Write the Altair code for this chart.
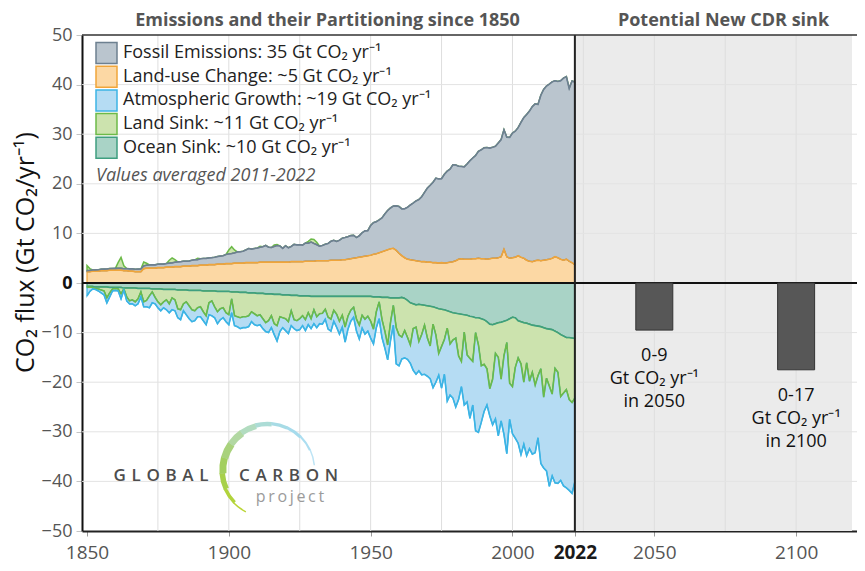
import altair as alt
import pandas as pd

FONT = "Open Sans"

# ---------------- data (Gt CO2 per year) ----------------
years = list(range(1850, 2023))

fossil = [
    0.20, 0.21, 0.23, 0.24, 0.27, 0.28, 0.29, 0.31, 0.31, 0.33,
    0.34, 0.36, 0.36, 0.38, 0.41, 0.44, 0.44, 0.47, 0.49, 0.52,
    0.54, 0.58, 0.63, 0.68, 0.66, 0.69, 0.70, 0.71, 0.72, 0.79,
    0.86, 0.89, 0.95, 1.00, 1.00, 1.00, 1.02, 1.09, 1.18, 1.20,
    1.29, 1.35, 1.36, 1.35, 1.41, 1.49, 1.53, 1.61, 1.70, 1.85,
    1.95, 2.03, 2.06, 2.27, 2.29, 2.40, 2.57, 2.86, 2.74, 2.84,
    2.94, 2.99, 3.11, 3.37, 3.02, 2.95, 3.17, 3.36, 3.26, 2.79,
    3.32, 2.90, 3.06, 3.49, 3.38, 3.41, 3.35, 3.64, 3.61, 3.85,
    3.56, 3.22, 2.91, 3.05, 3.32, 3.47, 3.80, 4.00, 3.77, 4.00,
    4.33, 4.47, 4.54, 4.66, 4.60, 4.05, 4.32, 4.83, 5.11, 5.06,
    5.98, 6.37, 6.46, 6.62, 6.82, 7.42, 7.92, 8.23, 8.50, 8.95,
    9.42, 9.44, 9.86, 10.46, 11.03, 11.51, 12.04, 12.42, 13.09, 13.97,
    14.93, 15.50, 16.21, 17.02, 16.98, 16.94, 17.91, 18.45, 18.75, 19.53,
    19.29, 18.73, 18.60, 18.62, 19.19, 19.84, 20.30, 20.81, 21.54, 21.95,
    22.35, 22.52, 22.30, 22.37, 22.56, 23.14, 23.61, 24.09, 24.10, 24.37,
    25.12, 25.41, 25.82, 27.19, 28.35, 29.37, 30.26, 31.26, 31.61, 31.40,
    33.36, 34.44, 35.01, 35.31, 35.55, 35.48, 35.53, 35.99, 36.72, 36.80,
    34.81, 36.63, 36.81]

land_use = [
    2.3, 2.3, 2.4, 2.4, 2.4, 2.5, 2.5, 2.5, 2.6, 2.6,
    2.6, 2.6, 2.6, 2.5, 2.5, 2.4, 2.4, 2.3, 2.3, 2.3,
    2.9, 3.0, 3.0, 3.0, 3.0, 3.1, 3.1, 3.1, 3.2, 3.2,
    3.2, 3.3, 3.3, 3.3, 3.4, 3.4, 3.4, 3.5, 3.5, 3.5,
    3.6, 3.6, 3.6, 3.7, 3.7, 3.7, 3.8, 3.8, 3.8, 3.9,
    3.9, 3.9, 4.0, 4.0, 4.0, 4.0, 4.1, 4.1, 4.1, 4.1,
    4.1, 4.2, 4.2, 4.2, 4.2, 4.2, 4.2, 4.2, 4.2, 4.2,
    4.2, 4.2, 4.3, 4.3, 4.3, 4.3, 4.3, 4.4, 4.4, 4.4,
    4.4, 4.5, 4.5, 4.5, 4.5, 4.5, 4.6, 4.6, 4.6, 4.6,
    4.7, 4.7, 4.8, 4.9, 5.0, 5.1, 5.2, 5.3, 5.4, 5.5,
    5.6, 5.8, 5.9, 6.1, 6.3, 6.5, 6.7, 6.9, 7.0, 6.6,
    6.0, 5.5, 5.1, 4.8, 4.7, 4.6, 4.5, 4.4, 4.3, 4.3,
    4.2, 4.2, 4.1, 4.1, 4.0, 4.1, 4.0, 4.1, 4.2, 4.3,
    4.5, 4.8, 4.9, 4.8, 4.8, 4.8, 4.9, 4.9, 5.0, 4.9,
    4.9, 4.8, 4.9, 5.0, 5.0, 5.1, 5.3, 6.8, 5.3, 5.0,
    5.1, 5.2, 5.5, 5.2, 5.0, 4.6, 4.4, 4.3, 4.5, 4.6,
    4.5, 4.6, 4.7, 4.8, 5.0, 5.3, 5.1, 4.8, 4.6, 4.8,
    4.4, 4.1, 3.7]

ocean_sink = [
    0.7, 0.7, 0.7, 0.8, 0.8, 0.8, 0.8, 0.8, 0.9, 0.9,
    0.9, 0.9, 0.9, 1.0, 1.0, 1.0, 1.0, 1.0, 1.1, 1.1,
    1.1, 1.1, 1.1, 1.2, 1.2, 1.2, 1.2, 1.3, 1.3, 1.3,
    1.3, 1.3, 1.4, 1.4, 1.4, 1.4, 1.5, 1.5, 1.5, 1.5,
    1.5, 1.6, 1.6, 1.6, 1.6, 1.6, 1.7, 1.7, 1.7, 1.7,
    1.7, 1.8, 1.8, 1.8, 1.9, 1.9, 1.9, 2.0, 2.0, 2.0,
    2.1, 2.1, 2.1, 2.2, 2.2, 2.2, 2.3, 2.3, 2.3, 2.4,
    2.4, 2.4, 2.5, 2.5, 2.5, 2.6, 2.6, 2.6, 2.6, 2.7,
    2.7, 2.7, 2.7, 2.7, 2.7, 2.7, 2.7, 2.7, 2.7, 2.7,
    2.7, 2.7, 2.7, 2.7, 2.7, 2.7, 2.7, 2.7, 2.7, 2.7,
    2.7, 2.8, 2.8, 2.8, 2.9, 2.9, 2.9, 3.0, 3.0, 3.0,
    3.0, 2.9, 3.1, 3.5, 4.0, 4.2, 4.4, 4.3, 4.4, 4.5,
    4.6, 4.7, 4.8, 5.0, 5.2, 5.3, 5.4, 5.6, 5.8, 6.0,
    6.1, 6.2, 6.3, 6.4, 6.5, 6.7, 6.8, 7.0, 7.0, 7.2,
    7.4, 7.8, 8.3, 8.4, 8.2, 8.0, 7.9, 7.7, 7.5, 7.2,
    6.9, 7.0, 7.6, 7.8, 8.0, 8.1, 8.3, 8.5, 8.6, 8.7,
    8.8, 9.0, 9.2, 9.3, 9.4, 9.7, 10.0, 10.4, 10.7, 11.0,
    11.0, 11.1, 11.2]

land_sink = [
    0.2, 0.1, 0.2, 0.3, 0.4, 0.6, 0.8, 2.2, 1.1, 0.3,
    0.2, 0.3, 1.3, 0.2, 1.8, 2.6, 2.4, 2.8, 2.1, 0.7,
    2.7, 2.4, 1.5, 0.6, 1.7, 2.6, 3.2, 2.5, 2.1, 2.9,
    1.7, 2.1, 3.8, 4.0, 2.8, 2.4, 3.1, 3.9, 4.1, 3.5,
    3.3, 4.2, 5.0, 2.4, 2.0, 3.2, 4.1, 3.5, 3.3, 4.3,
    4.7, 1.4, 4.8, 5.0, 5.1, 4.9, 4.9, 4.6, 3.8, 4.2,
    4.5, 4.3, 5.1, 5.8, 5.4, 4.4, 5.9, 6.3, 4.5, 4.6,
    4.8, 5.4, 3.1, 4.9, 5.1, 4.6, 4.0, 4.8, 3.4, 4.5,
    2.7, 4.1, 3.5, 3.4, 2.6, 4.2, 4.6, 2.8, 3.6, 5.0,
    3.8, 6.2, 4.0, 2.8, 2.2, 4.6, 5.8, 3.8, 4.6, 4.0,
    5.0, 6.5, 3.0, 1.0, 4.5, 6.8, 9.6, 5.0, 1.5, 6.0,
    7.5, 8.0, 6.5, 7.5, 8.5, 5.0, 4.5, 7.5, 6.0, 4.0,
    6.5, 8.0, 3.5, 5.5, 9.0, 7.5, 6.0, 3.5, 6.5, 5.5,
    5.0, 8.5, 9.5, 3.5, 8.0, 8.5, 9.0, 3.0, 5.5, 9.5,
    9.0, 9.5, 13.0, 11.0, 6.0, 7.0, 11.5, 7.0, 4.5, 13.0,
    14.0, 10.0, 7.5, 8.5, 12.0, 8.0, 11.5, 9.5, 12.0, 10.0,
    8.5, 14.0, 10.0, 11.5, 13.0, 7.5, 8.0, 12.5, 11.5, 10.5,
    12.5, 13.0, 12.0]

atm_growth = [
    1.7, 0.9, 0.3, 0.2, 0.4, 0.6, 0.8, 1.0, 0.8, 0.4,
    0.4, 0.4, 1.0, 0.2, 0.8, 0.6, 0.8, 0.8, 1.0, 1.0,
    1.0, 1.3, 2.4, 2.2, 1.3, 1.2, 1.2, 1.2, 2.0, 1.8,
    2.4, 2.2, 1.8, 2.0, 1.4, 2.6, 2.6, 2.4, 2.0, 1.8,
    2.0, 1.8, 1.8, 2.4, 3.0, 2.2, 2.4, 2.2, 2.0, 1.8,
    2.0, 2.8, 2.0, 2.0, 2.2, 2.2, 2.2, 2.2, 2.0, 2.2,
    2.0, 2.0, 2.0, 1.8, 2.4, 2.4, 2.2, 3.1, 3.0, 2.0,
    2.4, 2.4, 3.0, 1.8, 2.0, 2.2, 2.0, 2.2, 2.4, 2.0,
    2.8, 2.2, 2.0, 2.2, 2.0, 2.4, 2.4, 2.2, 2.6, 2.6,
    2.4, 3.0, 2.6, 2.2, 2.0, 2.4, 2.8, 2.6, 3.0, 3.0,
    3.4, 3.0, 3.2, 3.4, 3.6, 3.4, 3.0, 3.6, 4.0, 7.3,
    6.2, 4.4, 5.5, 4.4, 3.7, 8.4, 9.5, 5.9, 8.1, 9.9,
    7.7, 6.6, 12.8, 9.5, 4.4, 8.4, 7.0, 14.7, 10.3, 11.7,
    13.9, 8.8, 5.1, 14.7, 9.5, 12.1, 8.8, 19.8, 17.6, 11.4,
    9.5, 7.3, 5.5, 9.2, 13.2, 15.8, 8.4, 15.8, 22.4, 7.3,
    9.5, 14.3, 17.2, 18.3, 12.5, 18.7, 13.6, 16.5, 13.6, 12.5,
    19.1, 14.3, 18.7, 20.2, 16.5, 23.1, 22.4, 16.9, 18.7, 19.8,
    18.3, 18.3, 16.9]

# years in which the sinks exceed the emissions (drawn above the emissions)
imbalance_years = [1850, 1851, 1861, 1862, 1863, 1870, 1871, 1879, 1880, 1881,
                   1889, 1900, 1901, 1902, 1911, 1916, 1917, 1928, 1929, 1930, 1931]
imbalance_values = [1.0, 0.4, 1.2, 2.2, 0.6, 0.8, 0.4, 0.6, 1.0, 0.5,
                    0.3, 0.8, 1.4, 0.6, 0.2, 0.3, 0.2, 0.4, 0.6, 0.8, 0.5]

cdr_years = [2050, 2100]
cdr_values = [-9.5, -17.5]
cdr_labels = ["0-9\nGt CO₂ yr⁻¹\nin 2050", "0-17\nGt CO₂ yr⁻¹\nin 2100"]

series_names = [
    "Fossil Emissions: 35 Gt CO₂ yr⁻¹",
    "Land-use Change: ~5 Gt CO₂ yr⁻¹",
    "Atmospheric Growth: ~19 Gt CO₂ yr⁻¹",
    "Land Sink: ~11 Gt CO₂ yr⁻¹",
    "Ocean Sink: ~10 Gt CO₂ yr⁻¹",
]
fill_colors = ["#bac5ce", "#fcd8a4", "#b5dcf3", "#cce3ae", "#a9d3c6"]
line_colors = ["#6d8090", "#f0a53a", "#3cb4e5", "#6cba48", "#3f9f80"]

x_ticks = [1850, 1900, 1950, 2000, 2022, 2050, 2100]
grid_years = [1875, 1900, 1925, 1950, 1975, 2000, 2025, 2050, 2075, 2100]
y_ticks = [-50, -40, -30, -20, -10, 0, 10, 20, 30, 40, 50]
grid_values = [-40, -30, -20, -10, 10, 20, 30, 40]

CDR_START = 2022
X_END = 2119.7

# ---------------- tables ----------------
rows = []
stack_spec = [
    (series_names[1], land_use, 1, 1),
    (series_names[0], fossil, 1, 2),
    (series_names[4], ocean_sink, -1, 1),
    (series_names[3], land_sink, -1, 2),
    (series_names[2], atm_growth, -1, 3),
]
for name, vals, sign, order in stack_spec:
    for yr, v in zip(years, vals):
        rows.append({"year": yr, "series": name, "value": sign * v, "order": order})
long_df = pd.DataFrame(rows)

imb_lookup = dict(zip(imbalance_years, imbalance_values))
imb_df = pd.DataFrame({
    "year": years,
    "base": [f + l for f, l in zip(fossil, land_use)],
    "top": [f + l + imb_lookup.get(yr, 0.0) for yr, f, l in zip(years, fossil, land_use)],
})

cdr_df = pd.DataFrame({"year": cdr_years, "value": cdr_values, "label": cdr_labels})
one = pd.DataFrame({"k": [0]})

# ---------------- scales / axes ----------------
x_scale = alt.Scale(domain=[1850, X_END], nice=False, zero=False)
y_scale = alt.Scale(domain=[-50, 50], nice=False, zero=False)

x_axis = alt.Axis(
    values=x_ticks, format="d", title=None, grid=False, labelFlush=False, labelOverlap=False,
    labelFont=FONT, labelFontSize=19,
    labelColor=alt.ExprRef(expr="datum.value == 2022 ? '#1a1a1a' : '#555555'"),
    labelFontWeight=alt.ExprRef(expr="datum.value == 2022 ? 'bold' : 'normal'"),
    labelPadding=7, tickSize=5, tickColor="#9a9a9a", domainColor="#222222", domainWidth=2,
)
y_axis = alt.Axis(
    values=y_ticks, title="CO₂ flux (Gt CO₂/yr⁻¹)", grid=False, labelFlush=False, labelOverlap=False,
    labelFont=FONT, labelFontSize=18,
    labelColor=alt.ExprRef(expr="datum.value == 0 ? '#111111' : '#555555'"),
    labelFontWeight=alt.ExprRef(expr="datum.value == 0 ? 'bold' : 'normal'"),
    labelPadding=4, tickSize=6, tickColor="#c4c4c4", domainColor="#111111", domainWidth=2,
    titleFont=FONT, titleFontSize=25, titleFontWeight="normal", titleColor="#111111",
    titleAngle=270, titleAlign="center", titleBaseline="middle", titleX=-57, titleY=217,
)


def X(field):
    return alt.X(field, scale=x_scale, axis=x_axis)


def Y(field):
    return alt.Y(field, scale=y_scale, axis=y_axis)


def XD(v):
    return alt.XDatum(v, scale=x_scale, axis=x_axis)


def YD(v):
    return alt.YDatum(v, scale=y_scale, axis=y_axis)


fill_scale = alt.Scale(domain=series_names, range=fill_colors)
stroke_scale = alt.Scale(domain=series_names, range=line_colors)

# ---------------- layers ----------------
cdr_bg = alt.Chart(one).mark_rect(color="#ebebeb").encode(
    x=XD(CDR_START), x2=alt.X2Datum(X_END), y=YD(50), y2=alt.Y2Datum(-50))

grid_x = alt.Chart(pd.DataFrame({"year": grid_years})).mark_rule(
    color="#dedede", strokeWidth=1).encode(x=X("year:Q"))
grid_y = alt.Chart(pd.DataFrame({"v": grid_values})).mark_rule(
    color="#e3e3e3", strokeWidth=1).encode(y=Y("v:Q"))

imb_area = alt.Chart(imb_df).mark_area(
    color="#cce3ae", opacity=1, stroke="#6cba48", strokeWidth=1.5).encode(
    x=X("year:Q"), y=Y("top:Q"), y2="base:Q")

stacked = alt.Chart(long_df).transform_stack(
    stack="value", groupby=["year"], as_=["v0", "v1"],
    sort=[alt.SortField("order", order="ascending")], offset="zero")

areas = stacked.mark_area(opacity=1, strokeWidth=1.2).encode(
    x=X("year:Q"), y=Y("v1:Q"), y2="v0:Q",
    fill=alt.Fill("series:N", scale=fill_scale, legend=None),
    stroke=alt.Stroke("series:N", scale=stroke_scale, legend=None),
    order=alt.Order("order:Q"))

lines = stacked.mark_line(strokeWidth=1.6).encode(
    x=X("year:Q"), y=Y("v1:Q"),
    stroke=alt.Stroke("series:N", scale=stroke_scale, legend=None))

zero_rule = alt.Chart(one).mark_rule(color="#111111", strokeWidth=2).encode(y=YD(0))
divider = alt.Chart(one).mark_rule(color="#222222", strokeWidth=2).encode(x=XD(CDR_START))
top_rule = alt.Chart(one).mark_rule(color="#333333", strokeWidth=1.5).encode(y=YD(50))

bars = alt.Chart(cdr_df).mark_bar(size=37, color="#575757", stroke="#333333", strokeWidth=1).encode(
    x=X("year:Q"), y=Y("value:Q"), y2=alt.Y2Datum(0))
bar_text = alt.Chart(cdr_df).mark_text(
    align="center", baseline="top", dy=17, lineBreak="\n", lineHeight=23,
    font=FONT, fontSize=18, color="#111111").encode(
    x=X("year:Q"), y=Y("value:Q"), text="label:N")

# legend (drawn by hand, one row per series)
legend_layers = []
for i, (name, fc, lc) in enumerate(zip(series_names, fill_colors, line_colors)):
    row_y = 18 + i * 23.7
    legend_layers.append(alt.Chart(one).mark_square(
        size=441, fill=fc, stroke=lc, strokeWidth=1.5, opacity=1).encode(
        x=alt.value(24.5), y=alt.value(row_y)))
    legend_layers.append(alt.Chart(one).mark_text(
        text=name, font=FONT, fontSize=18, color="#222222",
        align="left", baseline="middle").encode(
        x=alt.value(41), y=alt.value(row_y)))

# panel titles
title_left = alt.Chart(one).mark_text(
    text="Emissions and their Partitioning since 1850", font=FONT, fontSize=18,
    fontWeight="bold", color="#555555", align="center", baseline="middle").encode(
    x=alt.value(245.5), y=alt.value(-14))
title_right = alt.Chart(one).mark_text(
    text="Potential New CDR sink", font=FONT, fontSize=18,
    fontWeight="bold", color="#555555", align="center", baseline="middle").encode(
    x=alt.value(641.5), y=alt.value(-14))
note = alt.Chart(one).mark_text(
    text="Values averaged 2011-2022", font=FONT, fontSize=18, fontStyle="italic",
    color="#555555", align="left", baseline="middle").encode(
    x=alt.value(14), y=alt.value(141))

# Global Carbon Project logo
arc_bounds = [207, 225, 245, 265, 285, 305, 325, 345, 365, 385, 405, 425, 444]
arc_thick = [1.5, 3.5, 5.5, 7.0, 7.5, 7.0, 6.0, 4.5, 3.5, 3.0, 2.2, 1.5]
arc_cols = ["#bad534", "#b1d33c", "#a7d04a", "#a3cf5e", "#a9d27c", "#b2d8a2",
            "#b2dcc0", "#acdcd6", "#a7dbe5", "#a6dbec", "#acdef1", "#bde4f5"]
logo_layers = []
for i, col in enumerate(arc_cols):
    a0 = arc_bounds[i] * 3.14159265 / 180
    a1 = arc_bounds[i + 1] * 3.14159265 / 180 + 0.01
    logo_layers.append(
        alt.Chart(one).mark_arc(theta=a0, theta2=a1, outerRadius=48,
                                innerRadius=48 - arc_thick[i], color=col).encode(
            x=alt.value(185.3), y=alt.value(434.7)))
sp = "\u2004"
logo_layers.append(alt.Chart(one).mark_text(
    text=sp.join("GLOBAL"), font=FONT, fontSize=17, fontWeight=600, color="#4d4d4d",
    align="center", baseline="middle").encode(x=alt.value(79), y=alt.value(441)))
logo_layers.append(alt.Chart(one).mark_text(
    text=sp.join("CARBON"), font=FONT, fontSize=17, fontWeight=600, color="#4d4d4d",
    align="center", baseline="middle").encode(x=alt.value(206.5), y=alt.value(441)))
logo_layers.append(alt.Chart(one).mark_text(
    text="\u2009".join("project"), font=FONT, fontSize=16, color="#9b9b9b",
    align="center", baseline="middle").encode(x=alt.value(208), y=alt.value(462)))

chart = alt.layer(
    cdr_bg, grid_x, grid_y, imb_area, areas, lines, zero_rule, divider, top_rule,
    bars, bar_text, *legend_layers, *logo_layers, title_left, title_right, note,
).properties(
    width=775, height=496,
    autosize=alt.AutoSizeParams(type="none"),
    padding={"left": 74, "top": 27, "right": 0, "bottom": 32},
).configure_view(stroke=None).configure_text(font=FONT)

chart.save("out.html", embed_options={"renderer": "svg", "actions": False})
